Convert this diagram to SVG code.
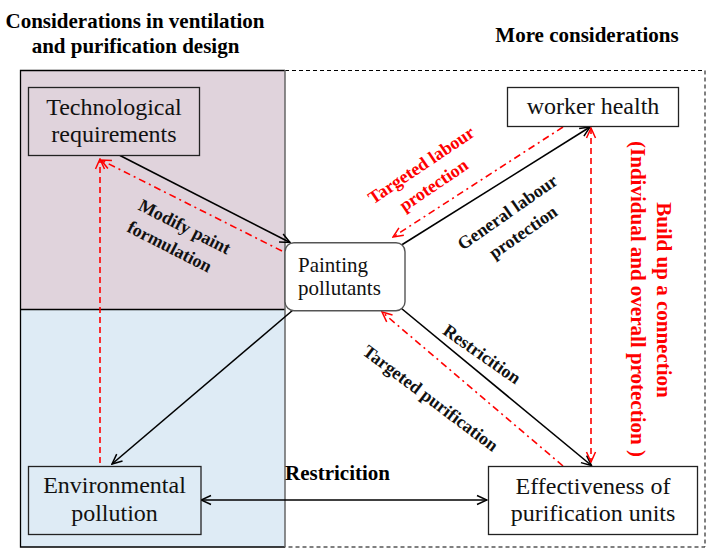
<svg xmlns="http://www.w3.org/2000/svg" width="723" height="558" viewBox="0 0 723 558">
<defs>
<marker id="ak" markerUnits="userSpaceOnUse" markerWidth="12" markerHeight="12" viewBox="-1 -1 12 12" refX="10" refY="5" orient="auto-start-reverse">
<path d="M0,0.5 L10,5 L0,9.5" fill="none" stroke="#000" stroke-width="1.5"/>
</marker>
<marker id="ar" markerUnits="userSpaceOnUse" markerWidth="12" markerHeight="12" viewBox="-1 -1 12 12" refX="10" refY="5" orient="auto-start-reverse">
<path d="M0,0.5 L10,5 L0,9.5" fill="none" stroke="#f00" stroke-width="1.5"/>
</marker>
<style>
.node{stroke:#222;stroke-width:1.3}
.nt{font-family:"Liberation Serif","Times New Roman",serif;font-size:24px;fill:#111;text-anchor:middle}
.title{font-family:"Liberation Serif","Times New Roman",serif;font-weight:bold;font-size:21px;fill:#000;text-anchor:middle}
.lbl{font-family:"Liberation Serif","Times New Roman",serif;font-weight:bold;font-size:18px;fill:#111;text-anchor:middle}
.red{fill:#ff0000}
.ck{stroke:#000;stroke-width:1.6;fill:none}
.cdd{stroke:#f00;stroke-width:1.6;fill:none;stroke-dasharray:7 4 2 4}
.cd{stroke:#f00;stroke-width:1.6;fill:none;stroke-dasharray:6 4}
</style>
</defs>
<rect x="0" y="0" width="723" height="558" fill="#fff"/>
<g id="regions">
<rect x="20.5" y="70.5" width="264.5" height="239" fill="#e0d3dc"/>
<rect x="20.5" y="309.5" width="264.5" height="237.5" fill="#deebf5"/>
<path d="M285,70.5 H705 V547 H285" fill="none" stroke="#000" stroke-width="1" stroke-dasharray="4 3"/>
<path d="M285,70.5 H20.5 V547 H285" fill="none" stroke="#000" stroke-width="1.3"/>
<line x1="20.5" y1="309.5" x2="285" y2="309.5" stroke="#000" stroke-width="1.3"/>
<line x1="285" y1="70" x2="285" y2="547" stroke="#666" stroke-width="1.5"/>
</g>
<g id="titles">
<text class="title" x="135" y="28">Considerations in ventilation</text>
<text class="title" x="135.5" y="53">and purification design</text>
<text class="title" x="587" y="42">More considerations</text>
</g>
<g id="connectors">
<line class="ck" x1="120" y1="155.5" x2="290" y2="242.5" marker-end="url(#ak)"/>
<line class="cdd" x1="282" y1="251" x2="101" y2="160" marker-end="url(#ar)"/>
<line class="cd" x1="100" y1="463" x2="100" y2="159" marker-end="url(#ar)"/>
<line class="ck" x1="293" y1="310" x2="112" y2="464" marker-end="url(#ak)"/>
<line class="ck" x1="401.5" y1="245" x2="590" y2="127" marker-end="url(#ak)"/>
<line class="cdd" x1="563" y1="127" x2="393" y2="237" marker-end="url(#ar)"/>
<line class="ck" x1="401.5" y1="308.5" x2="591.5" y2="465.5" marker-end="url(#ak)"/>
<line class="cdd" x1="563" y1="466" x2="382" y2="312" marker-end="url(#ar)"/>
<line class="cd" x1="591" y1="128" x2="591" y2="462" marker-start="url(#ar)" marker-end="url(#ar)"/>
<line class="ck" x1="201" y1="500" x2="487" y2="500" marker-start="url(#ak)" marker-end="url(#ak)"/>
</g>
<g id="tech">
<rect class="node" x="28.5" y="87.5" width="171" height="68" fill="#e0d3dc"/>
<text class="nt" x="114" y="115">Technological</text>
<text class="nt" x="114" y="142">requirements</text>
</g>
<g id="worker">
<rect class="node" x="507.5" y="87.5" width="171" height="39" fill="#fff"/>
<text class="nt" x="593" y="114">worker health</text>
</g>
<g id="painting">
<rect x="285" y="242.7" width="120" height="68" rx="9" fill="#fff" stroke="#555" stroke-width="1.4"/>
<text class="nt" x="298" y="271.5" style="font-size:21px;text-anchor:start">Painting</text>
<text class="nt" x="298" y="295" style="font-size:21px;text-anchor:start">pollutants</text>
</g>
<g id="env">
<rect class="node" x="28.5" y="466.5" width="172.5" height="68" fill="#deebf5"/>
<text class="nt" x="114.5" y="493">Environmental</text>
<text class="nt" x="114.5" y="521">pollution</text>
</g>
<g id="effect">
<rect class="node" x="488.5" y="466.5" width="209" height="68" fill="#fff"/>
<text class="nt" x="593" y="494">Effectiveness of</text>
<text class="nt" x="593" y="521">purification units</text>
</g>
<g id="labels">
<text class="lbl" transform="translate(182,232) rotate(27)">Modify paint</text>
<text class="lbl" transform="translate(167,252) rotate(27)">formulation</text>
<text class="lbl red" transform="translate(424.5,170) rotate(-34)">Targeted labour</text>
<text class="lbl red" transform="translate(437,190) rotate(-34)">protection</text>
<text class="lbl" transform="translate(511,217) rotate(-35)">General labour</text>
<text class="lbl" transform="translate(526.5,237) rotate(-35)">protection</text>
<text class="lbl" transform="translate(478.5,359) rotate(35)">Restricition</text>
<text class="lbl" transform="translate(427,403) rotate(37)">Targeted purification</text>
<text class="lbl red" style="font-size:21px" transform="translate(657,300) rotate(90)">Build up a connection</text>
<text class="lbl red" style="font-size:21px" transform="translate(630.5,299) rotate(90)">(Individual and overall protection )</text>
<text class="title" x="285" y="480" style="text-anchor:start">Restricition</text>
</g>
</svg>
